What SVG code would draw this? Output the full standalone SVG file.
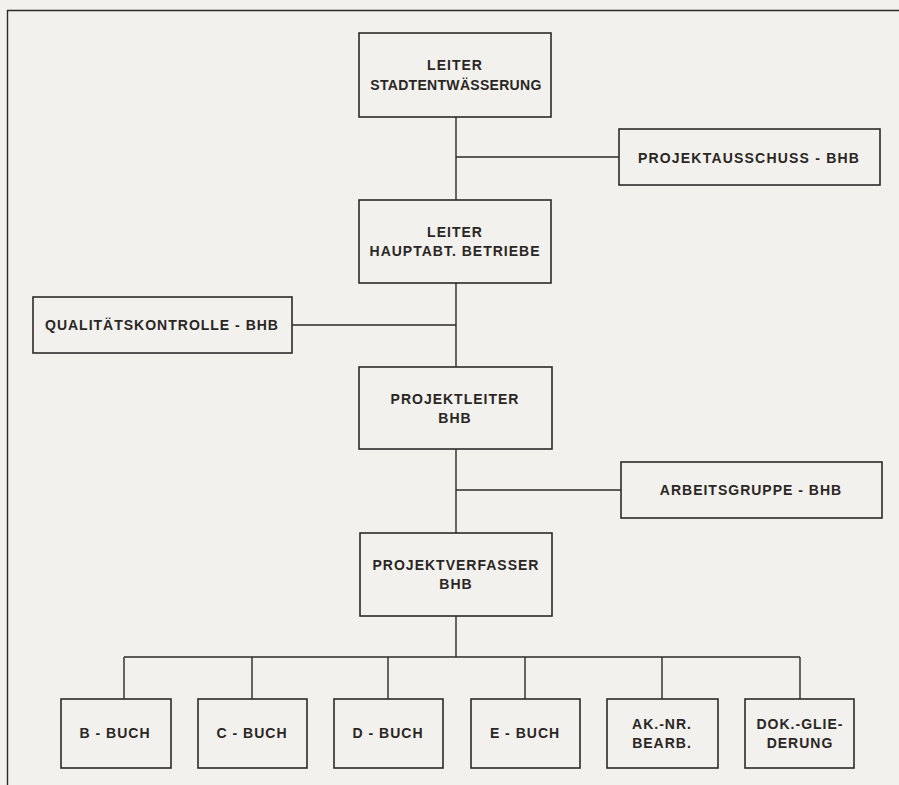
<svg xmlns="http://www.w3.org/2000/svg" width="899" height="785" viewBox="0 0 899 785">
<style>
.box{fill:none;stroke:#2e2a28;stroke-width:1.6}
.ln{fill:none;stroke:#2e2a28;stroke-width:1.4}
text{font-family:"Liberation Sans",Arial,sans-serif;font-weight:bold;font-size:14px;fill:#2a2624;text-anchor:middle;letter-spacing:1px}
</style>
<rect width="899" height="785" fill="#f2f1ed"/>
<path class="ln" d="M7.5,790 V10.5 H905" stroke-width="1.6"/>
<g id="connectors">
<path class="ln" d="M456,117 V200 M456,157 H619 M456,283 V367 M292,325 H456 M456,449 V533 M456,490 H621 M456,616 V657 M124,657 H800 M124,657 V699 M252,657 V699 M388,657 V699 M525,657 V699 M662,657 V699 M800,657 V699"/>
</g>
<g id="leiter-stadt"><rect class="box" x="359" y="33" width="192" height="84"/><text x="455" y="70">LEITER</text><text x="456" y="90" style="letter-spacing:0.3px">STADTENTWÄSSERUNG</text></g>
<g id="projektausschuss"><rect class="box" x="619" y="129" width="261" height="56"/><text x="749" y="163" style="letter-spacing:1.2px">PROJEKTAUSSCHUSS - BHB</text></g>
<g id="leiter-haupt"><rect class="box" x="359" y="200" width="192" height="83"/><text x="455" y="237">LEITER</text><text x="455" y="256">HAUPTABT. BETRIEBE</text></g>
<g id="qualitaet"><rect class="box" x="33" y="297" width="259" height="56"/><text x="162" y="330">QUALITÄTSKONTROLLE - BHB</text></g>
<g id="projektleiter"><rect class="box" x="359" y="367" width="193" height="82"/><text x="455" y="404">PROJEKTLEITER</text><text x="455" y="423">BHB</text></g>
<g id="arbeitsgruppe"><rect class="box" x="621" y="462" width="261" height="56"/><text x="751" y="495">ARBEITSGRUPPE - BHB</text></g>
<g id="projektverfasser"><rect class="box" x="360" y="533" width="192" height="83"/><text x="456" y="570">PROJEKTVERFASSER</text><text x="456" y="589">BHB</text></g>
<g id="b-buch"><rect class="box" x="61" y="699" width="110" height="69"/><text x="115" y="738">B - BUCH</text></g>
<g id="c-buch"><rect class="box" x="198" y="699" width="109" height="69"/><text x="252" y="738">C - BUCH</text></g>
<g id="d-buch"><rect class="box" x="334" y="699" width="109" height="69"/><text x="388" y="738">D - BUCH</text></g>
<g id="e-buch"><rect class="box" x="471" y="699" width="109" height="69"/><text x="525" y="738">E - BUCH</text></g>
<g id="ak-nr"><rect class="box" x="607" y="699" width="111" height="69"/><text x="662" y="729">AK.-NR.</text><text x="662" y="748">BEARB.</text></g>
<g id="dok"><rect class="box" x="745" y="699" width="109" height="69"/><text x="800" y="729">DOK.-GLIE-</text><text x="800" y="748">DERUNG</text></g>
</svg>
